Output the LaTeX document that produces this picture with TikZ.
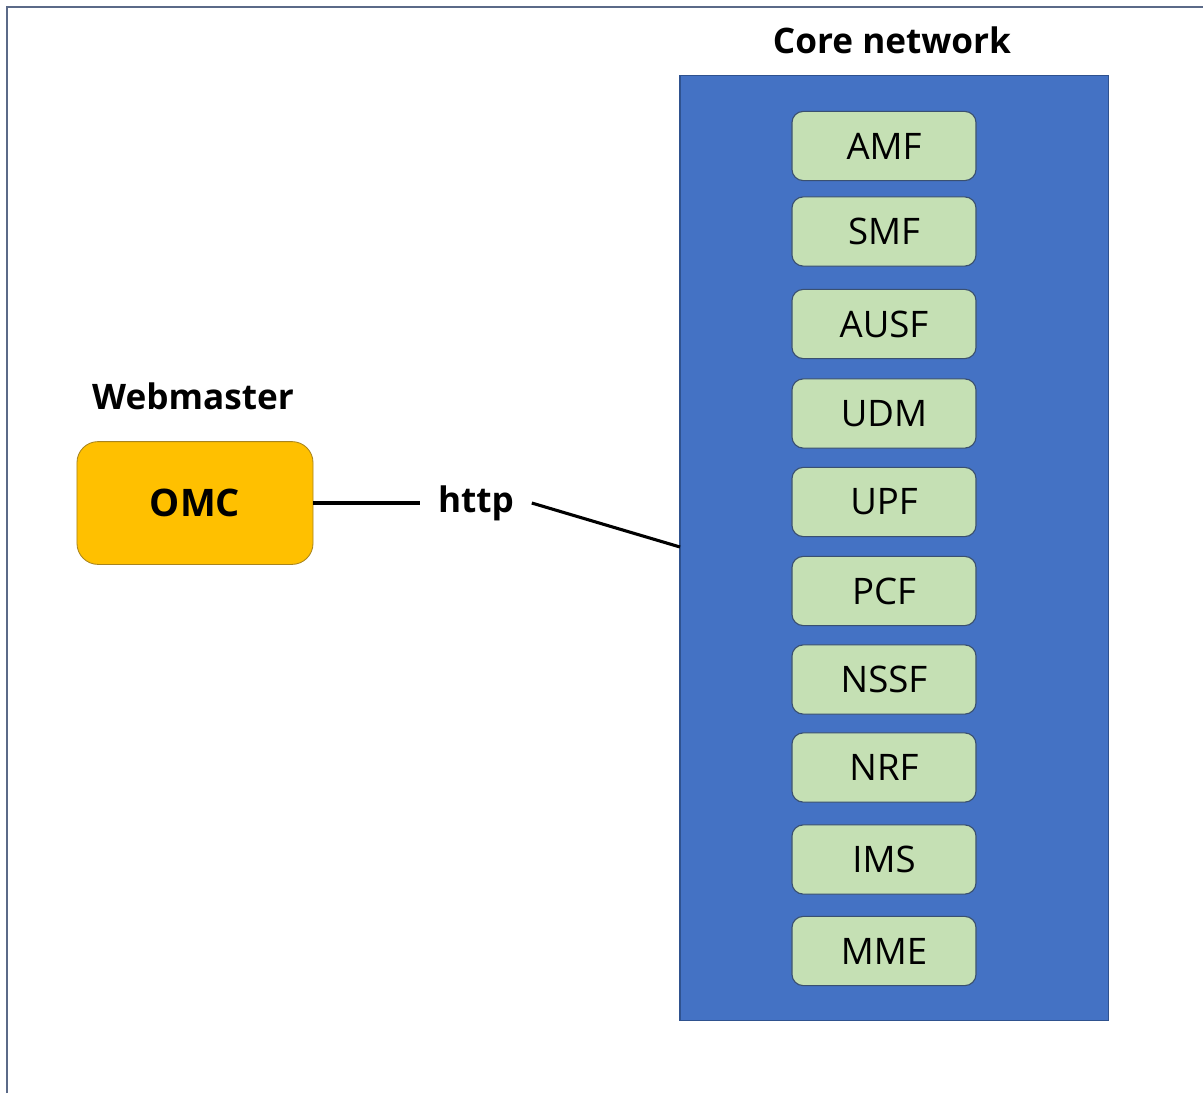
\documentclass[tikz,border=0pt]{standalone}
\usepackage{fontspec}
\setmainfont{Open Sans}
\usetikzlibrary{positioning}

\definecolor{coreblue}{HTML}{4472C4}
\definecolor{coreedge}{HTML}{2F528F}
\definecolor{nfgreen}{HTML}{C5E0B4}
\definecolor{nfedge}{HTML}{3A5070}
\definecolor{omcgold}{HTML}{FFC000}
\definecolor{omcedge}{HTML}{A8841E}
\definecolor{frameline}{HTML}{5B6A88}

\begin{document}
\begin{tikzpicture}[x=0.025cm, y=-0.025cm,
	bigfont/.style={font=\fontsize{26}{30}\selectfont},
	nfbox/.style={bigfont, draw=nfedge, fill=nfgreen, line width=0.8pt, rounded corners=8pt,
		minimum width=4.6cm, minimum height=1.73cm, inner sep=0pt},
	omcbox/.style={font=\fontsize{27}{30}\selectfont\bfseries, draw=omcedge, fill=omcgold,
		line width=0.6pt, rounded corners=15pt, minimum width=5.9cm, minimum height=3.07cm},
	corebox/.style={draw=coreedge, fill=coreblue, line width=0.8pt, minimum width=10.7cm,
		minimum height=23.6cm, inner sep=0pt},
	title/.style={font=\fontsize{25}{30}\selectfont\bfseries},
	link/.style={line width=2.2pt}]
	\useasboundingbox (0,0) rectangle (1203,1093);

	% --- 外框 ---
	\draw[frameline, line width=1.4pt] (7,1093) -- (7,7) -- (1203,7);

	% --- 核心网 ---
	\node[corebox] (core) at (894,548) {};
	\node[title] (corelbl) at (892,40) {Core network};
	\foreach \nf/\y in {AMF/146, SMF/231.5, AUSF/324, UDM/413.5, UPF/502,
		PCF/591, NSSF/679.5, NRF/767.5, IMS/859.5, MME/951}
		\node[nfbox] (\nf) at (884,\y) {\nf};

	% --- 网管 OMC ---
	\node[omcbox] (omc) at (195,503) {OMC};
	\node[title] (webm) at (193,396) {Webmaster};

	% --- 连线 ---
	\node[title, inner xsep=12.5pt] (http) at (476,503) {http};
	\coordinate (tap) at (680,547);
	\draw[link] (omc) -- (http);
	\draw[link] (http.east) -- (tap);
\end{tikzpicture}
\end{document}
